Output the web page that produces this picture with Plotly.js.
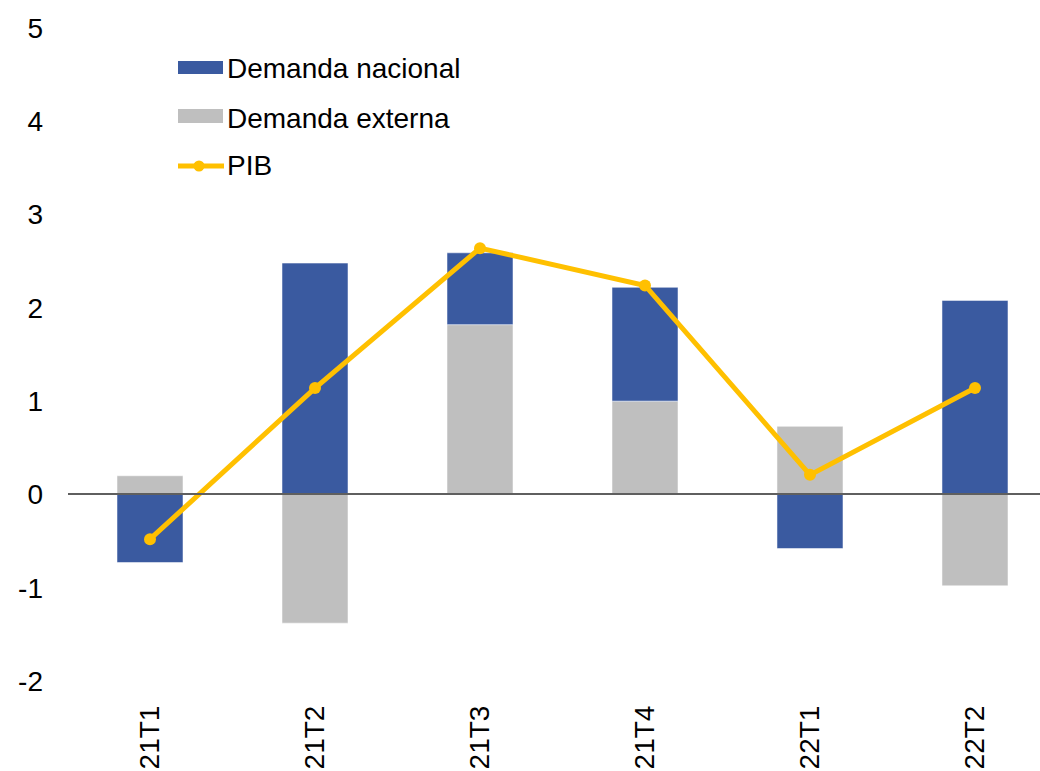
<!DOCTYPE html>
<html>
<head>
<meta charset="utf-8">
<script src="https://cdn.plot.ly/plotly-3.0.1.min.js"></script>
<style>html,body{margin:0;padding:0;background:#fff;}#chart{width:1040px;height:771px;}</style>
</head>
<body>
<div id="chart"></div>
<script>
const quarters = ["21T1", "21T2", "21T3", "21T4", "22T1", "22T2"];
const demandaNacional = [-0.73, 2.48, 0.77, 1.22, -0.58, 2.08];
const demandaExterna = [0.20, -1.38, 1.82, 1.00, 0.73, -0.98];
const pib = [-0.48, 1.14, 2.64, 2.24, 0.21, 1.14];
const yTickVals = [-2, -1, 0, 1, 2, 3, 4, 5];
const yTickLabels = ["-2", "-1", "0", "1", "2", "3", "4", "5"];
const seriesNames = ["Demanda nacional", "Demanda externa", "PIB"];

const BLUE = "#3A5AA0", GRAY = "#BFBFBF", GOLD = "#FFC000";
const FONT = "Liberation Sans, Arial, sans-serif";
const FS = 28;

const traces = [
  {type: "bar", x: quarters, y: demandaExterna, name: seriesNames[1], width: 0.4,
   marker: {color: GRAY, line: {color: "rgba(255,255,255,0.5)", width: 1}}, hoverinfo: "skip"},
  {type: "bar", x: quarters, y: demandaNacional, name: seriesNames[0], width: 0.4,
   marker: {color: BLUE, line: {color: "rgba(255,255,255,0.5)", width: 1}}, hoverinfo: "skip"},
  {type: "scatter", mode: "lines+markers", x: quarters, y: pib, name: seriesNames[2],
   line: {color: GOLD, width: 5}, marker: {color: GOLD, size: 12}, hoverinfo: "skip"}
];

// custom legend (plot area: x 68..1040, y 28..681 px)
const W = 972, H = 653, L = 68, T = 28;
const px = v => (v - L) / W;
const py = v => (T + H - v) / H;
const shapes = [
  {type: "rect", xref: "paper", yref: "paper", x0: px(178), x1: px(223), y0: py(74), y1: py(61), fillcolor: BLUE, line: {width: 0}},
  {type: "rect", xref: "paper", yref: "paper", x0: px(178), x1: px(223), y0: py(123), y1: py(109), fillcolor: GRAY, line: {width: 0}},
  {type: "line", xref: "paper", yref: "paper", x0: px(178), x1: px(224), y0: py(166), y1: py(166), line: {color: GOLD, width: 5}},
  {type: "circle", xref: "paper", yref: "paper", x0: px(193.5), x1: px(204.5), y0: py(171.5), y1: py(160.5), fillcolor: GOLD, line: {width: 0}}
];
const legendY = [69, 118, 166];
const annotations = seriesNames.map((n, i) => ({
  xref: "paper", yref: "paper", x: px(225), y: py(legendY[i]), xanchor: "left", yanchor: "middle",
  text: n, showarrow: false, font: {family: FONT, size: FS, color: "#000"}
}));

const layout = {
  width: 1040, height: 771,
  margin: {l: L, r: 0, t: T, b: 771 - T - H, pad: 0},
  paper_bgcolor: "#fff", plot_bgcolor: "#fff",
  barmode: "relative", showlegend: false,
  font: {family: FONT, size: FS, color: "#000"},
  xaxis: {type: "category", range: [-0.497, 5.394], showgrid: false, zeroline: false, showline: false,
          ticks: "", tickangle: -90, ticklabelstandoff: 18, tickfont: {family: FONT, size: FS, color: "#000"}},
  yaxis: {range: [-2, 5], tickvals: yTickVals, ticktext: yTickLabels, showgrid: false, showline: false, ticks: "",
          zeroline: true, zerolinecolor: "#5F5F5F", zerolinewidth: 2, zerolinelayer: "above traces",
          ticklabelstandoff: 24, tickfont: {family: FONT, size: FS, color: "#000"}},
  shapes: shapes, annotations: annotations
};

Plotly.newPlot("chart", traces, layout, {staticPlot: true});
</script>
</body>
</html>
